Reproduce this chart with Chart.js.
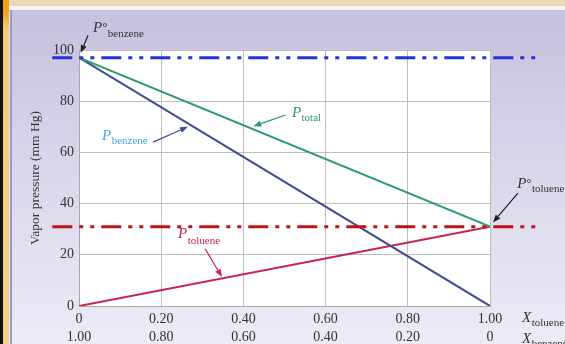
<!DOCTYPE html>
<html>
<head>
<meta charset="utf-8">
<script src="https://cdn.jsdelivr.net/npm/chart.js@4.4.1/dist/chart.umd.min.js"></script>
<style>
  html, body { margin:0; padding:0; }
  body { width:565px; height:344px; position:relative; overflow:hidden;
         background: linear-gradient(to bottom, #c6bfdf 0%, #d9d4ea 45%, #ecebf5 100%); }
  #topbar { position:absolute; left:0; top:0; width:565px; height:6px; background:#ead9b6; }
  #topwhite { position:absolute; left:0; top:6px; width:565px; height:4px; background:#f7f4f2; }
  #black { position:absolute; left:0; top:0; width:3px; height:344px; background:#111; }
  #gold { position:absolute; left:3px; top:0; width:6px; height:344px;
          background: linear-gradient(to bottom, #f3a21a 0px, #f3a21a 12px, #f0cd76 30px, #f0d283 100%); }
  #thin { position:absolute; left:9px; top:10px; width:1px; height:334px; background:#e9e6f2; }
  #blue { position:absolute; left:10px; top:10px; width:2px; height:334px; background:#9a98cc; }
  canvas { position:absolute; left:0; top:0; }
</style>
</head>
<body>
<div id="topbar"></div><div id="topwhite"></div>
<div id="black"></div><div id="gold"></div><div id="thin"></div><div id="blue"></div>
<canvas id="c" width="565" height="344"></canvas>
<script>
// ---- data ----
const xToluene = [0, 1];          // mole fraction of toluene
const pBenzene = [97, 0];         // mm Hg
const pToluene = [0, 31];
const pTotal   = [97, 31];
const pBenzenePure = 97;          // P° benzene
const pToluenePure = 31;          // P° toluene
const xTicks = [0, 0.2, 0.4, 0.6, 0.8, 1.0];
const yTicks = [0, 20, 40, 60, 80, 100];

const SERIF = '"Liberation Serif", "DejaVu Serif", serif';

function pts(ys){ return xToluene.map((x,i)=>({x:x, y:ys[i]})); }

function arrow(ctx, x1, y1, x2, y2, color){
  ctx.save();
  ctx.strokeStyle = color; ctx.fillStyle = color; ctx.lineWidth = 1.2;
  const a = Math.atan2(y2-y1, x2-x1), L = 8, W = 3;
  const bx = x2 - L*Math.cos(a), by = y2 - L*Math.sin(a);
  ctx.beginPath(); ctx.moveTo(x1,y1); ctx.lineTo(bx,by); ctx.stroke();
  ctx.beginPath();
  ctx.moveTo(x2,y2);
  ctx.lineTo(bx + W*Math.sin(a), by - W*Math.cos(a));
  ctx.lineTo(bx - W*Math.sin(a), by + W*Math.cos(a));
  ctx.closePath(); ctx.fill();
  ctx.restore();
}

function label(ctx, x, y, main, deg, sub, color, subDrop){
  ctx.save();
  ctx.fillStyle = color; ctx.textBaseline = 'alphabetic'; ctx.textAlign = 'left';
  ctx.font = 'italic 15px ' + SERIF;
  ctx.fillText(main, x, y);
  let w = ctx.measureText(main).width;
  if (deg){
    ctx.font = '13px ' + SERIF;
    ctx.fillText('°', x + w, y - 1);
    w += ctx.measureText('°').width;
  }
  ctx.font = '11px ' + SERIF;
  ctx.fillText(sub, x + w + 0.5, y + (subDrop===undefined ? 5 : subDrop));
  ctx.restore();
}

const annotations = {
  id: 'annotations',
  beforeDraw(chart){
    const {ctx, chartArea:a} = chart;
    ctx.save();
    ctx.fillStyle = '#ffffff';
    ctx.fillRect(a.left, a.top, a.right - a.left, a.bottom - a.top);
    ctx.restore();
  },
  afterDraw(chart){
    const {ctx} = chart;
    const xs = chart.scales.x, ys = chart.scales.y;
    const X = v => xs.getPixelForValue(v), Y = v => ys.getPixelForValue(v);

    // reference lines for pure vapour pressures (extend past the plot)
    const x0 = X(-0.065), x1 = X(1.11);
    ctx.save();
    ctx.lineWidth = 3;
    ctx.setLineDash([20, 7, 4, 7, 4, 7]);
    ctx.strokeStyle = '#2233dd';
    ctx.beginPath(); ctx.moveTo(x0, Y(pBenzenePure)); ctx.lineTo(x1, Y(pBenzenePure)); ctx.stroke();
    ctx.strokeStyle = '#bf1416';
    ctx.beginPath(); ctx.moveTo(x0, Y(pToluenePure)); ctx.lineTo(x1, Y(pToluenePure)); ctx.stroke();
    ctx.restore();

    // labels and arrows
    label(ctx, X(0.034), Y(107), 'P', true, 'benzene', '#333333', 5);
    arrow(ctx, X(0.022), Y(105.8), X(0.004), Y(98.8), '#222222');

    label(ctx, X(0.518), Y(73.8), 'P', false, 'total', '#2a9a6c', 4);
    arrow(ctx, X(0.503), Y(74.6), X(0.424), Y(70.2), '#2a9a6c');

    label(ctx, X(0.056), Y(64.8), 'P', false, 'benzene', '#3aa6e2', 4);
    arrow(ctx, X(0.18), Y(64.0), X(0.265), Y(70.0), '#3b4b95');

    label(ctx, X(0.241), Y(26.6), 'P', false, 'toluene', '#c8234f', 6);
    arrow(ctx, X(0.307), Y(22.3), X(0.348), Y(11.3), '#c8234f');

    label(ctx, X(1.066), Y(46.1), 'P', true, 'toluene', '#333333', 4);
    arrow(ctx, X(1.068), Y(44.1), X(1.007), Y(32.6), '#222222');

    label(ctx, X(1.078), Y(-6.3), 'X', false, 'toluene', '#333333', 4);
    label(ctx, X(1.078), Y(-14.6), 'X', false, 'benzene', '#333333', 4);
  }
};

const fmt = v => (Math.abs(v) < 1e-9 ? '0' : v.toFixed(2));

new Chart(document.getElementById('c'), {
  type: 'line',
  data: {
    datasets: [
      { label: 'P total',   data: pts(pTotal),   borderColor: '#2e9a6e', borderWidth: 2, pointRadius: 0, fill: false },
      { label: 'P benzene', data: pts(pBenzene), borderColor: '#3b4b93', borderWidth: 2, pointRadius: 0, fill: false },
      { label: 'P toluene', data: pts(pToluene), borderColor: '#c8234f', borderWidth: 2, pointRadius: 0, fill: false }
    ]
  },
  options: {
    responsive: false,
    animation: false,
    events: [],
    layout: { padding: { left: 0, top: 50, right: 75, bottom: 0 } },
    plugins: { legend: { display: false }, tooltip: { enabled: false } },
    scales: {
      x: {
        type: 'linear', min: 0, max: 1,
        afterBuildTicks: s => { s.ticks = xTicks.map(v => ({ value: v })); },
        afterFit: s => { s.height = 38; },
        grid: { color: '#bdbdbd', lineWidth: 1, drawTicks: false },
        border: { color: '#a8a8a8', width: 1 },
        ticks: {
          autoSkip: false, maxRotation: 0, padding: 4,
          color: '#333333',
          font: { family: SERIF, size: 14, lineHeight: 1.3 },
          callback: v => [fmt(v), fmt(1 - v)]
        }
      },
      y: {
        type: 'linear', min: 0, max: 100,
        afterBuildTicks: s => { s.ticks = yTicks.map(v => ({ value: v })); },
        afterFit: s => { s.width = 79; },
        grid: { color: '#bdbdbd', lineWidth: 1, drawTicks: false },
        border: { color: '#a8a8a8', width: 1 },
        ticks: {
          padding: 5, color: '#333333',
          font: { family: SERIF, size: 14 }
        },
        title: {
          display: true, text: 'Vapor pressure (mm Hg)', color: '#333333',
          font: { family: SERIF, size: 13.5, lineHeight: 1.2 },
          padding: { top: 27, bottom: 0 }
        }
      }
    }
  },
  plugins: [annotations]
});
</script>
</body>
</html>
